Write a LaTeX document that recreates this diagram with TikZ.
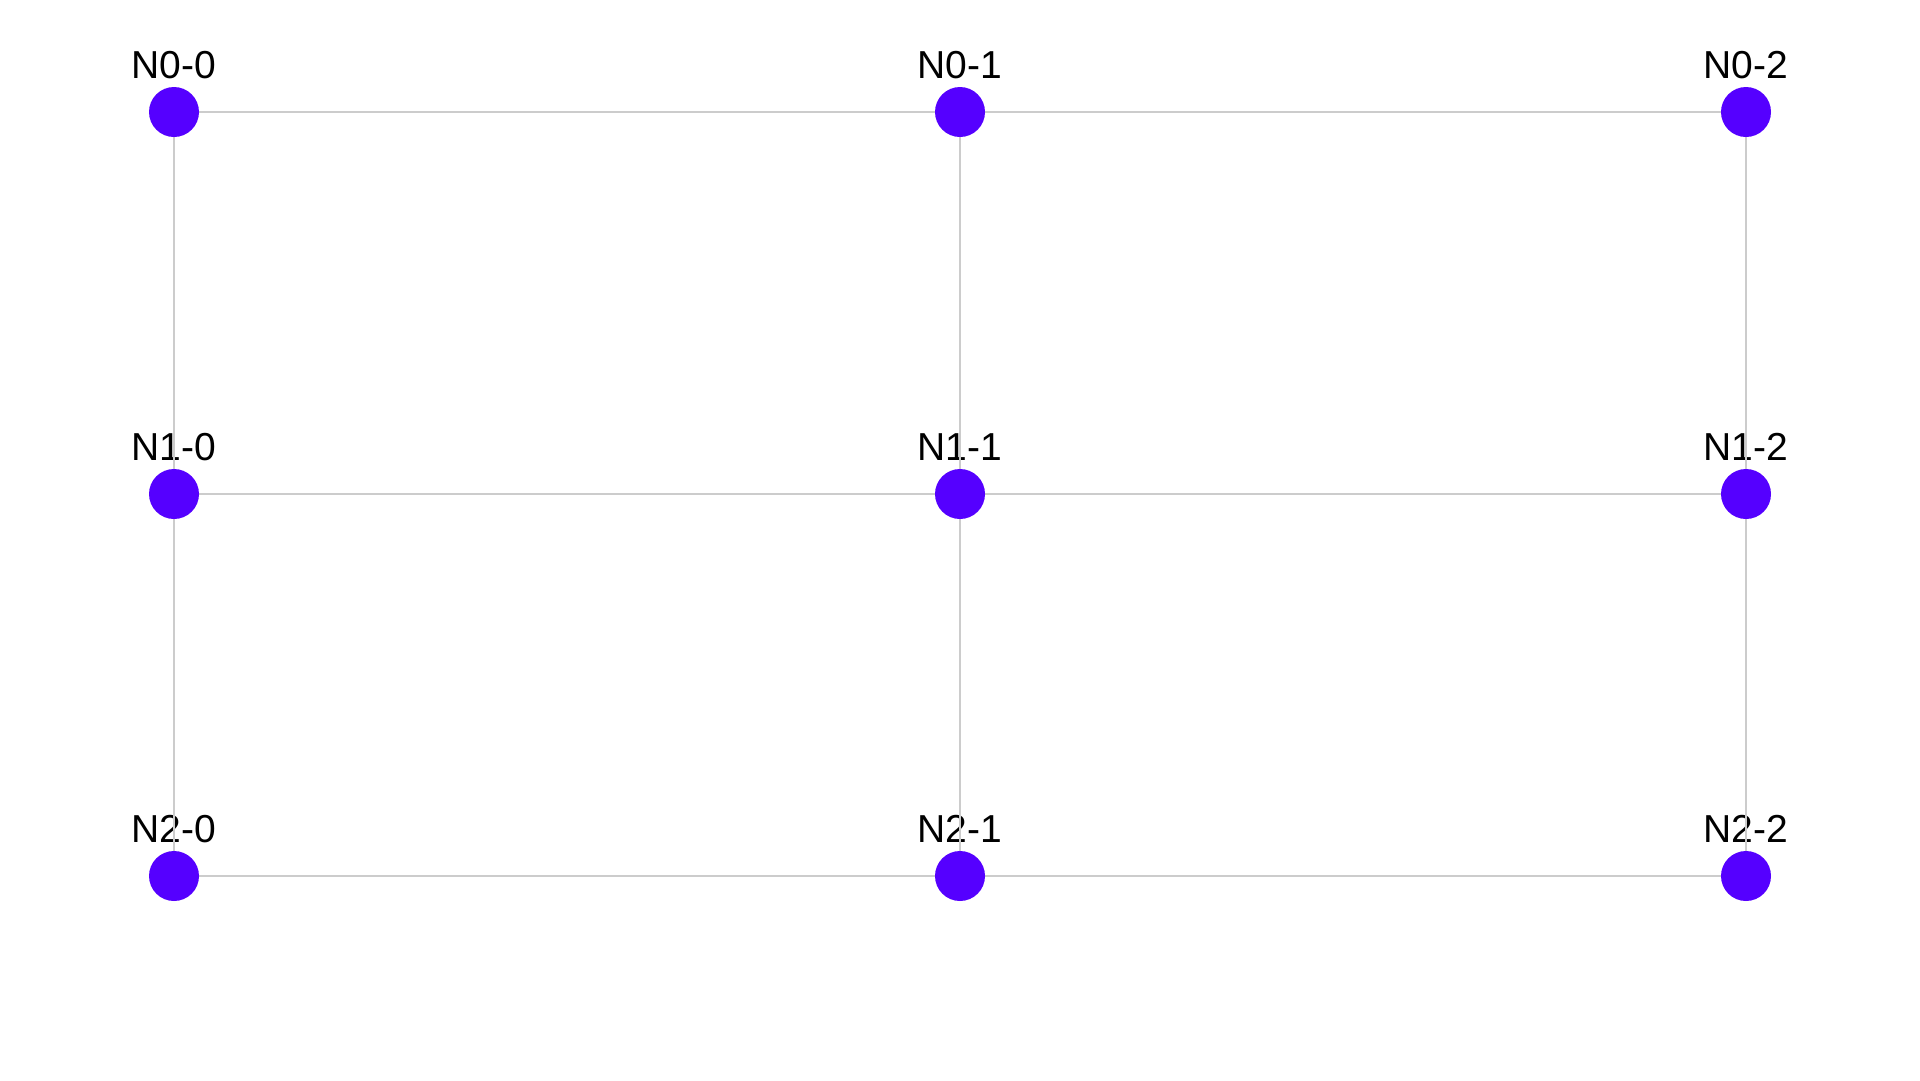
\documentclass[tikz,border=0pt]{standalone}
\usepackage{fontspec}
\setmainfont{Liberation Sans}
\definecolor{nodeblue}{HTML}{5500FF}
\definecolor{edgegray}{HTML}{CCCCCC}
\tikzset{
  dot/.style={circle, fill=nodeblue, draw=none, minimum size=50pt, inner sep=0pt},
  edge/.style={draw=edgegray, line width=2pt},
  lbl/.style={anchor=base, inner sep=0pt, font=\fontsize{39pt}{44pt}\selectfont}
}
\begin{document}
\begin{tikzpicture}[x=1pt,y=-1pt]
\useasboundingbox (0,0) rectangle (1920,1080);
\foreach \r/\y in {0/112,1/494,2/876}{
  \foreach \c/\x in {0/174,1/960,2/1746}{
    \coordinate (n\r\c) at (\x,\y);
  }
}
\foreach \r in {0,1,2}{
  \foreach \c in {0,1,2}{
    \node[lbl] (l\r\c) at ([yshift=34pt]n\r\c) {N\r-\c};
  }
}
\foreach \r in {0,1,2}{
  \draw[edge] (n\r0) -- (n\r1);
  \draw[edge] (n\r1) -- (n\r2);
}
\foreach \c in {0,1,2}{
  \draw[edge] (n0\c) -- (n1\c);
  \draw[edge] (n1\c) -- (n2\c);
}
\foreach \r in {0,1,2}{
  \foreach \c in {0,1,2}{
    \node[dot] (d\r\c) at (n\r\c) {};
  }
}
\end{tikzpicture}
\end{document}
